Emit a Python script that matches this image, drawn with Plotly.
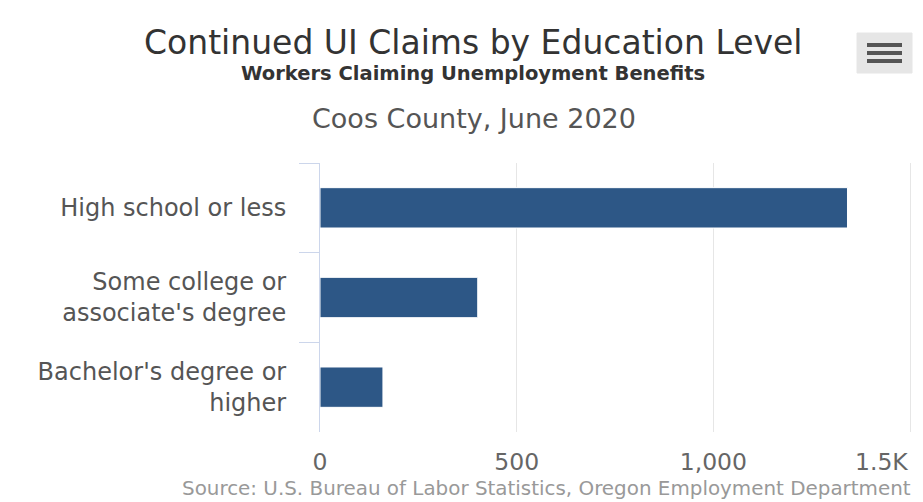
import plotly.graph_objects as go

categories = ["High school or less", "Some college or<br>associate's degree", "Bachelor's degree or<br>higher"]
claims = [1341, 401, 160]
tick_vals = [0, 500, 1000, 1500]
tick_text = ["0", "500", "1,000", "1.5K"]

W, H = 923, 502
L, R, T, B = 320, 11, 163, 70
pw = W - L - R
ph = H - T - B

def px(x):
    return (x - L) / pw

def py(y):
    return (H - B - y) / ph

FONT = "DejaVu Sans"
TICK_FONT = dict(size=23.5, color="#666666", family=FONT)

fig = go.Figure(go.Bar(
    x=claims, y=categories, orientation="h",
    marker=dict(color="#2d5786", line=dict(color="#ffffff", width=1)),
))

fig.update_layout(
    width=W, height=H,
    margin=dict(l=L, r=R, t=T, b=B, autoexpand=False),
    paper_bgcolor="white", plot_bgcolor="white",
    bargap=0.55,
    showlegend=False,
    font=dict(family=FONT, color="#666666"),
    xaxis=dict(range=[0, 1505], tickvals=tick_vals, ticktext=tick_text[:-1] + [""],
               showgrid=True, gridcolor="#e6e6e6", gridwidth=1,
               zeroline=False, showline=False, ticks="",
               ticklabelstandoff=13, automargin=False,
               tickfont=TICK_FONT,
               fixedrange=True),
    yaxis=dict(autorange="reversed", showline=True, linecolor="#ccd6eb", linewidth=1,
               ticks="outside", tickson="boundaries", ticklen=20, tickcolor="#ccd6eb",
               ticklabelstandoff=28, automargin=False,
               tickfont=dict(size=24, color="#555555", family=FONT),
               showgrid=False, zeroline=False, fixedrange=True),
)

# last x tick label, right-aligned at its tick (as the original does)
fig.add_annotation(text=tick_text[-1], xref="x", yref="paper", x=tick_vals[-1], y=py(462),
                   xanchor="right", yanchor="middle", showarrow=False, font=TICK_FONT)

annotations = [
    dict(text="Continued UI Claims by Education Level", x=px(473), y=py(43),
         font=dict(size=33, color="#333333", family=FONT)),
    dict(text="<b>Workers Claiming Unemployment Benefits</b>", x=px(473), y=py(73),
         font=dict(size=19.5, color="#333333", family=FONT)),
    dict(text="Coos County, June 2020", x=px(474), y=py(118),
         font=dict(size=27, color="#555555", family=FONT)),
]
for a in annotations:
    a.update(xref="paper", yref="paper", showarrow=False, xanchor="center", yanchor="middle")
    fig.add_annotation(**a)
fig.add_annotation(text="Source: U.S. Bureau of Labor Statistics, Oregon Employment Department",
                   xref="paper", yref="paper", x=px(913), y=py(488), xanchor="right", yanchor="middle",
                   showarrow=False, font=dict(size=19.9, color="#999999", family=FONT))

# export menu button (decoration)
fig.add_shape(type="rect", xref="paper", yref="paper", x0=px(857), x1=px(912), y0=py(33), y1=py(73),
              fillcolor="#e6e6e6", line=dict(color="#e6e6e6", width=1), layer="above")
for yy in (45, 53, 61):
    fig.add_shape(type="line", xref="paper", yref="paper", x0=px(867), x1=px(902), y0=py(yy), y1=py(yy),
                  line=dict(color="#555555", width=4), layer="above")

fig.write_html("out.html", config={"displayModeBar": False},
               post_script="document.body.style.margin='0';document.body.style.padding='0';document.body.style.overflow='hidden';")
